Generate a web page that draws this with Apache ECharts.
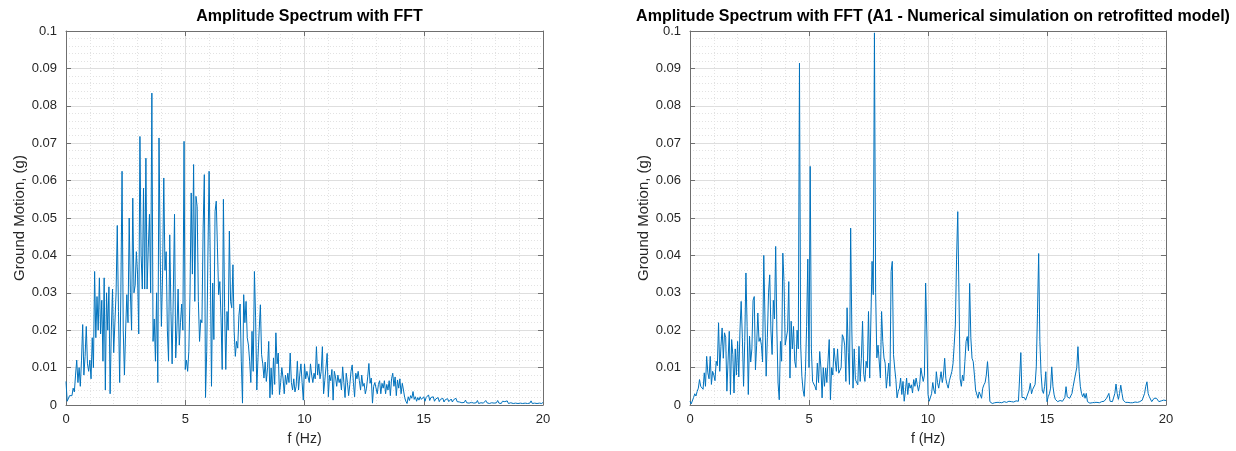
<!DOCTYPE html>
<html>
<head>
<meta charset="utf-8">
<script src="https://cdn.jsdelivr.net/npm/echarts@6/dist/echarts.min.js"></script>
<style>
html,body{margin:0;padding:0;background:#fff;}
#c{width:1236px;height:451px;}
</style>
</head>
<body>
<div id="c"></div>
<script>
// Frequency grid step (Hz) and tick labels
const df = 0.05;
const xTicks = [0, 5, 10, 15, 20];
const yTicks = [0, 0.01, 0.02, 0.03, 0.04, 0.05, 0.06, 0.07, 0.08, 0.09, 0.1];
const titleLeft = 'Amplitude Spectrum with FFT';
const titleRight = 'Amplitude Spectrum with FFT (A1 - Numerical simulation on retrofitted model)';
const xName = 'f (Hz)';
const yName = 'Ground Motion, (g)';

// Left spectrum: amplitude every 0.05 Hz from 0 to 20 Hz
const ampLeft = [
0.0063,0.0010,0.0012,0.0025,0.0030,0.0025,0.0045,0.0035,0.0080,0.0120,0.0060,0.0100,0.0050,0.0120,0.0215,0.0080,0.0130,0.0210,0.0110,0.0090,
0.0120,0.0070,0.0180,0.0100,0.0357,0.0180,0.0290,0.0200,0.0340,0.0190,0.0280,0.0117,0.0340,0.0040,0.0300,0.0200,0.0316,0.0030,0.0200,0.0310,
0.0140,0.0220,0.0300,0.0480,0.0250,0.0060,0.0300,0.0625,0.0200,0.0080,0.0200,0.0295,0.0220,0.0500,0.0300,0.0200,0.0553,0.0300,0.0320,0.0410,
0.0350,0.0190,0.0718,0.0400,0.0310,0.0580,0.0310,0.0660,0.0310,0.0420,0.0510,0.0300,0.0834,0.0170,0.0230,0.0117,0.0300,0.0060,0.0714,0.0400,
0.0210,0.0350,0.0607,0.0360,0.0410,0.0200,0.0117,0.0455,0.0250,0.0110,0.0300,0.0510,0.0126,0.0200,0.0310,0.0160,0.0220,0.0270,0.0200,0.0705,
0.0095,0.0120,0.0090,0.0143,0.0300,0.0567,0.0350,0.0643,0.0277,0.0558,0.0530,0.0277,0.0170,0.0228,0.0220,0.0473,0.0616,0.0020,0.0143,0.0400,
0.0625,0.0380,0.0050,0.0326,0.0175,0.0518,0.0545,0.0420,0.0295,0.0330,0.0233,0.0095,0.0550,0.0260,0.0095,0.0250,0.0200,0.0465,0.0277,0.0260,
0.0375,0.0197,0.0130,0.0170,0.0152,0.0240,0.0270,0.0117,0.0005,0.0295,0.0220,0.0277,0.0180,0.0160,0.0117,0.0060,0.0197,0.0090,0.0357,0.0233,
0.0040,0.0126,0.0200,0.0268,0.0135,0.0110,0.0072,0.0115,0.0063,0.0100,0.0170,0.0019,0.0099,0.0028,0.0126,0.0055,0.0193,0.0110,0.0139,0.0028,
0.0060,0.0100,0.0072,0.0030,0.0080,0.0055,0.0085,0.0060,0.0139,0.0060,0.0040,0.0070,0.0035,0.0050,0.0117,0.0040,0.0080,0.0110,0.0060,0.0013,
0.0110,0.0070,0.0090,0.0085,0.0060,0.0110,0.0080,0.0060,0.0085,0.0070,0.0156,0.0080,0.0110,0.0070,0.0090,0.0156,0.0030,0.0065,0.0100,0.0138,
0.0022,0.0080,0.0065,0.0095,0.0013,0.0090,0.0075,0.0050,0.0080,0.0060,0.0070,0.0040,0.0102,0.0060,0.0020,0.0085,0.0060,0.0025,0.0055,0.0090,
0.0107,0.0060,0.0022,0.0085,0.0070,0.0090,0.0065,0.0040,0.0080,0.0050,0.0058,0.0030,0.0045,0.0075,0.0111,0.0058,0.0072,0.0005,0.0050,0.0060,
0.0062,0.0030,0.0055,0.0065,0.0030,0.0058,0.0045,0.0065,0.0030,0.0055,0.0040,0.0065,0.0025,0.0070,0.0085,0.0050,0.0075,0.0025,0.0067,0.0045,
0.0070,0.0030,0.0058,0.0040,0.0020,0.0010,0.0004,0.0022,0.0012,0.0025,0.0018,0.0036,0.0015,0.0022,0.0010,0.0020,0.0013,0.0022,0.0015,0.0018,
0.0022,0.0010,0.0020,0.0018,0.0027,0.0012,0.0020,0.0015,0.0022,0.0010,0.0016,0.0013,0.0020,0.0009,0.0015,0.0012,0.0018,0.0008,0.0014,0.0011,
0.0017,0.0009,0.0013,0.0016,0.0008,0.0014,0.0010,0.0018,0.0009,0.0013,0.0008,0.0012,0.0006,0.0010,0.0007,0.0013,0.0006,0.0011,0.0005,0.0009,
0.0007,0.0012,0.0005,0.0010,0.0006,0.0012,0.0004,0.0009,0.0006,0.0011,0.0005,0.0008,0.0012,0.0006,0.0010,0.0004,0.0008,0.0006,0.0011,0.0005,
0.0009,0.0006,0.0012,0.0005,0.0008,0.0004,0.0010,0.0006,0.0009,0.0005,0.0011,0.0004,0.0008,0.0006,0.0009,0.0004,0.0007,0.0005,0.0009,0.0004,
0.0008,0.0005,0.0010,0.0004,0.0007,0.0005,0.0009,0.0004,0.0007,0.0005,0.0011,0.0004,0.0008,0.0005,0.0007,0.0004,0.0009,0.0005,0.0006,0.0004,
0.0007
];

// Right spectrum (A1 - retrofitted model): amplitude every 0.05 Hz from 0 to 20 Hz
const ampRight = [
0.0010,0.0003,0.0005,0.0020,0.0030,0.0024,0.0036,0.0045,0.0068,0.0050,0.0052,0.0042,0.0086,0.0050,0.0130,0.0086,0.0070,0.0130,0.0055,0.0090,
0.0080,0.0065,0.0117,0.0105,0.0220,0.0090,0.0157,0.0206,0.0125,0.0193,0.0180,0.0037,0.0120,0.0197,0.0028,0.0175,0.0135,0.0032,0.0150,0.0080,
0.0170,0.0075,0.0200,0.0277,0.0180,0.0050,0.0170,0.0353,0.0210,0.0028,0.0184,0.0115,0.0150,0.0280,0.0290,0.0094,0.0160,0.0246,0.0170,0.0180,
0.0160,0.0115,0.0400,0.0230,0.0077,0.0180,0.0300,0.0348,0.0200,0.0135,0.0280,0.0230,0.0424,0.0200,0.0059,0.0014,0.0170,0.0117,0.0406,0.0330,
0.0160,0.0157,0.0200,0.0330,0.0072,0.0224,0.0150,0.0210,0.0117,0.0100,0.0200,0.0150,0.0914,0.0160,0.0077,0.0040,0.0023,0.0090,0.0210,0.0390,
0.0100,0.0638,0.0150,0.0063,0.0060,0.0050,0.0040,0.0112,0.0060,0.0143,0.0100,0.0019,0.0100,0.0050,0.0099,0.0060,0.0120,0.0175,0.0014,0.0100,
0.0080,0.0152,0.0120,0.0090,0.0150,0.0085,0.0080,0.0100,0.0188,0.0180,0.0160,0.0063,0.0260,0.0140,0.0055,0.0473,0.0200,0.0045,0.0150,0.0068,
0.0072,0.0054,0.0157,0.0063,0.0125,0.0224,0.0082,0.0063,0.0117,0.0099,0.0250,0.0072,0.0068,0.0384,0.0295,0.0995,0.0300,0.0126,0.0160,0.0165,
0.0072,0.0250,0.0170,0.0126,0.0112,0.0045,0.0077,0.0112,0.0050,0.0357,0.0384,0.0135,0.0099,0.0068,0.0019,0.0037,0.0045,0.0072,0.0028,0.0063,
0.0010,0.0037,0.0072,0.0028,0.0059,0.0045,0.0054,0.0032,0.0068,0.0050,0.0072,0.0054,0.0037,0.0054,0.0099,0.0080,0.0063,0.0080,0.0326,0.0200,
0.0028,0.0010,0.0012,0.0030,0.0060,0.0040,0.0030,0.0089,0.0060,0.0045,0.0050,0.0089,0.0060,0.0080,0.0125,0.0070,0.0055,0.0045,0.0065,0.0062,
0.0089,0.0110,0.0160,0.0214,0.0390,0.0517,0.0300,0.0070,0.0050,0.0080,0.0065,0.0116,0.0170,0.0183,0.0145,0.0325,0.0180,0.0125,0.0116,0.0080,
0.0040,0.0045,0.0018,0.0035,0.0027,0.0018,0.0045,0.0054,0.0060,0.0080,0.0116,0.0072,0.0009,0.0005,0.0004,0.0005,0.0006,0.0005,0.0007,0.0006,
0.0007,0.0008,0.0006,0.0007,0.0009,0.0008,0.0007,0.0009,0.0010,0.0008,0.0009,0.0010,0.0008,0.0009,0.0011,0.0008,0.0010,0.0012,0.0140,0.0020,
0.0015,0.0020,0.0013,0.0022,0.0018,0.0040,0.0058,0.0030,0.0042,0.0040,0.0055,0.0102,0.0245,0.0405,0.0170,0.0085,0.0040,0.0031,0.0050,0.0089,
0.0009,0.0022,0.0030,0.0045,0.0102,0.0050,0.0027,0.0015,0.0010,0.0009,0.0009,0.0012,0.0009,0.0010,0.0009,0.0020,0.0049,0.0022,0.0018,0.0018,
0.0022,0.0031,0.0050,0.0067,0.0067,0.0100,0.0156,0.0090,0.0050,0.0031,0.0022,0.0031,0.0018,0.0031,0.0009,0.0006,0.0005,0.0007,0.0006,0.0006,
0.0007,0.0006,0.0007,0.0008,0.0006,0.0007,0.0009,0.0007,0.0010,0.0013,0.0018,0.0022,0.0031,0.0010,0.0012,0.0009,0.0012,0.0031,0.0056,0.0030,
0.0015,0.0031,0.0053,0.0031,0.0013,0.0009,0.0007,0.0006,0.0007,0.0005,0.0006,0.0005,0.0006,0.0006,0.0008,0.0006,0.0007,0.0009,0.0009,0.0009,
0.0013,0.0018,0.0031,0.0050,0.0062,0.0031,0.0022,0.0018,0.0009,0.0013,0.0018,0.0022,0.0018,0.0018,0.0009,0.0013,0.0011,0.0013,0.0013,0.0015,
0.0012
];

function toPairs(arr) { return arr.map((v, i) => [+(i * df).toFixed(2), v]); }

const FONT = '"Liberation Sans", Arial, Helvetica, sans-serif';
const frameColor = '#6f6f6f';
const textColor = '#262626';

function xAxes(gi) {
  const base = {
    type: 'value', gridIndex: gi, min: xTicks[0], max: xTicks[xTicks.length - 1], interval: 5,
    axisLine: { show: true, onZero: false, lineStyle: { color: frameColor, width: 1 } },
    axisTick: { show: true, inside: true, length: 5, lineStyle: { color: frameColor } },
    minorTick: { show: false, splitNumber: 5 },
  };
  return [
    Object.assign({}, base, {
      position: 'bottom',
      name: xName, nameLocation: 'middle', nameGap: 27,
      nameTextStyle: { fontFamily: FONT, fontSize: 14, color: textColor },
      axisLabel: { show: true, margin: 8, fontFamily: FONT, fontSize: 13, color: textColor },
      splitLine: { show: true, lineStyle: { color: '#dedede', width: 1 } },
      minorSplitLine: { show: true, lineStyle: { color: '#e2e2e2', type: [1, 2], width: 1 } },
    }),
    Object.assign({}, base, {
      position: 'top',
      axisLabel: { show: false },
      splitLine: { show: false },
    })
  ];
}
function yAxes(gi) {
  const base = {
    type: 'value', gridIndex: gi, min: 0, max: 0.1, interval: 0.01,
    axisLine: { show: true, onZero: false, lineStyle: { color: frameColor, width: 1 } },
    axisTick: { show: true, inside: true, length: 5, lineStyle: { color: frameColor } },
    minorTick: { show: false, splitNumber: 5 },
  };
  return [
    Object.assign({}, base, {
      position: 'left',
      name: yName, nameLocation: 'middle', nameGap: 39,
      nameTextStyle: { fontFamily: FONT, fontSize: 15, color: textColor },
      axisLabel: { show: true, margin: 9, fontFamily: FONT, fontSize: 13, color: textColor,
        formatter: v => String(+v.toFixed(2)) },
      splitLine: { show: true, lineStyle: { color: '#dedede', width: 1 } },
      minorSplitLine: { show: true, lineStyle: { color: '#e2e2e2', type: [1, 2], width: 1 } },
    }),
    Object.assign({}, base, {
      position: 'right',
      axisLabel: { show: false },
      splitLine: { show: false },
    })
  ];
}

const chart = echarts.init(document.getElementById('c'), null, { renderer: 'canvas' });
chart.setOption({
  animation: false,
  backgroundColor: '#ffffff',
  title: [
    { text: titleLeft, left: 304.5, top: 4, textAlign: 'center',
      textStyle: { fontFamily: FONT, fontSize: 16, fontWeight: 'bold', color: '#000' } },
    { text: titleRight, left: 928, top: 4, textAlign: 'center',
      textStyle: { fontFamily: FONT, fontSize: 16, fontWeight: 'bold', color: '#000' } }
  ],
  grid: [
    { left: 66, right: 693, top: 31, bottom: 46, containLabel: false },
    { left: 690, right: 70, top: 31, bottom: 46, containLabel: false }
  ],
  xAxis: [...xAxes(0), ...xAxes(1)],
  yAxis: [...yAxes(0), ...yAxes(1)],
  series: [
    { type: 'line', xAxisIndex: 0, yAxisIndex: 0, data: toPairs(ampLeft), showSymbol: false,
      lineStyle: { color: '#0072BD', width: 1 }, itemStyle: { color: '#0072BD' } },
    { type: 'line', xAxisIndex: 2, yAxisIndex: 2, data: toPairs(ampRight), showSymbol: false,
      lineStyle: { color: '#0072BD', width: 1 }, itemStyle: { color: '#0072BD' } }
  ]
});
</script>
</body>
</html>
